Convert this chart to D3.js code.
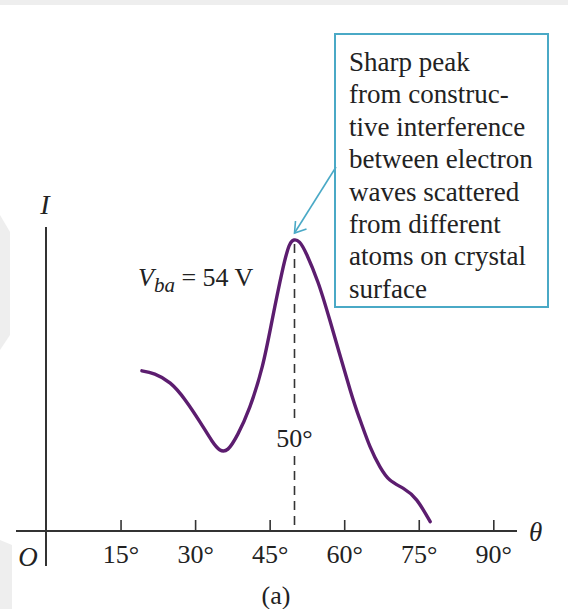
<!DOCTYPE html>
<html>
<head>
<meta charset="utf-8">
<script src="https://cdn.jsdelivr.net/npm/d3@7"></script>
<style>
  html, body { margin: 0; padding: 0; background: #fff; }
  svg text { font-family: "Liberation Serif", "Times New Roman", serif; fill: #222; }
</style>
</head>
<body>
<div id="container"></div>
<script>
// scattering angle (deg) and detected intensity (arbitrary units)
var theta = [19.3, 21.9, 25.0, 28.0, 31.0, 33.4, 35.0, 36.6, 38.6, 41.0, 43.5, 45.5, 47.5, 48.9, 49.9,
             51.0, 52.5, 54.7, 57.1, 61.2, 63.2, 65.2, 67.2, 69.2, 71.9, 74.6, 77.3];
var intensity = [53.4, 52.3, 49.3, 43.7, 36.3, 30.0, 27.0, 27.3, 32.3, 41.3, 54.7, 70.3, 86.3, 95.0, 97.0,
                 96.3, 92.0, 83.0, 70.3, 47.0, 37.0, 28.1, 21.4, 17.0, 14.2, 10.3, 3.1];
var tickValues = [15, 30, 45, 60, 75, 90];
var peakAngle = 50;
var noteLines = ["Sharp peak", "from construc-", "tive interference", "between electron",
                 "waves scattered", "from different", "atoms on crystal", "surface"];

var width = 568, height = 609;

var svg = d3.select("#container")
  .append("svg")
    .attr("width", width)
    .attr("height", height);

// faint watermark shapes in the background
var wm = svg.append("g").attr("fill", "#eeeeee");
wm.append("polygon").attr("points", "0,0 568,0 568,5 0,5");
wm.append("polygon").attr("points", "0,215 10,232 10,335 0,350");
wm.append("polygon").attr("points", "0,540 12,545 12,609 0,609");

var x = d3.scaleLinear().domain([0, 90]).range([46, 493.3]);
var y = d3.scaleLinear().domain([0, 100]).range([531, 231]);

// x axis: ticks pointing up
var xAxis = svg.append("g")
  .attr("transform", "translate(0," + y(0) + ")")
  .call(d3.axisBottom(x)
    .tickValues(tickValues)
    .tickSizeInner(-11)
    .tickSizeOuter(0)
    .tickPadding(14)
    .tickFormat(function (d) { return d + "°"; }));
xAxis.select(".domain").remove();
xAxis.selectAll(".tick line").attr("stroke", "#333").attr("stroke-width", 1.6);
xAxis.selectAll(".tick text")
  .attr("font-family", "Liberation Serif, serif")
  .attr("font-size", 26)
  .attr("fill", "#222");

svg.append("line")
  .attr("x1", 16).attr("x2", 517)
  .attr("y1", y(0)).attr("y2", y(0))
  .attr("stroke", "#333").attr("stroke-width", 2);

// y axis
svg.append("line")
  .attr("x1", x(0)).attr("x2", x(0))
  .attr("y1", 227).attr("y2", 566)
  .attr("stroke", "#333").attr("stroke-width", 2);

svg.append("text").attr("x", 45).attr("y", 214).attr("text-anchor", "middle")
  .attr("font-size", 28).attr("font-style", "italic").text("I");
svg.append("text").attr("x", 28).attr("y", 566).attr("text-anchor", "middle")
  .attr("font-size", 27).attr("font-style", "italic").text("O");
svg.append("text").attr("x", 529).attr("y", 541)
  .attr("font-size", 27).attr("font-style", "italic").text("θ");
svg.append("text").attr("x", 276).attr("y", 604).attr("text-anchor", "middle")
  .attr("font-size", 26).text("(a)");

// dashed guide at the peak, broken around its label
var peakI = d3.max(intensity);
svg.append("line")
  .attr("x1", x(peakAngle)).attr("x2", x(peakAngle))
  .attr("y1", y(peakI) + 4).attr("y2", 421)
  .attr("stroke", "#333").attr("stroke-width", 1.6).attr("stroke-dasharray", "9,6");
svg.append("line")
  .attr("x1", x(peakAngle)).attr("x2", x(peakAngle))
  .attr("y1", 456).attr("y2", y(0))
  .attr("stroke", "#333").attr("stroke-width", 1.6).attr("stroke-dasharray", "9,6");
svg.append("text").attr("x", x(peakAngle)).attr("y", 447).attr("text-anchor", "middle")
  .attr("font-size", 26).text(peakAngle + "°");

// intensity curve
var line = d3.line()
  .x(function (d) { return x(d[0]); })
  .y(function (d) { return y(d[1]); })
  .curve(d3.curveNatural);

svg.append("path")
  .datum(d3.zip(theta, intensity))
  .attr("fill", "none")
  .attr("stroke", "#5c1d6f")
  .attr("stroke-width", 3.4)
  .attr("stroke-linecap", "round")
  .attr("d", line);

// voltage label
var vt = svg.append("text").attr("x", 138).attr("y", 286).attr("font-size", 26);
vt.append("tspan").attr("font-style", "italic").text("V");
vt.append("tspan").attr("font-style", "italic").attr("font-size", 21).attr("dy", 6).text("ba");
vt.append("tspan").attr("dy", -6).text(" = 54 V");

// annotation box with arrow to peak
var boxColor = "#4aa9c6";
svg.append("rect")
  .attr("x", 335).attr("y", 34).attr("width", 213).attr("height", 273)
  .attr("fill", "#fff").attr("stroke", boxColor).attr("stroke-width", 2);

svg.selectAll(".note")
  .data(noteLines)
  .enter()
  .append("text")
    .attr("class", "note")
    .attr("x", 349)
    .attr("y", function (d, i) { return 71 + i * 32.4; })
    .attr("font-size", 27)
    .text(function (d) { return d; });

var tipX = x(peakAngle), tipY = y(peakI) - 7;
svg.append("line")
  .attr("x1", 336).attr("y1", 167)
  .attr("x2", tipX).attr("y2", tipY)
  .attr("stroke", boxColor).attr("stroke-width", 1.6);
svg.append("path")
  .attr("d", "M" + (tipX + 1) + "," + (tipY - 12) + " L" + tipX + "," + tipY + " L" + (tipX + 12) + "," + (tipY - 4))
  .attr("fill", "none").attr("stroke", boxColor).attr("stroke-width", 1.6);
</script>
</body>
</html>
